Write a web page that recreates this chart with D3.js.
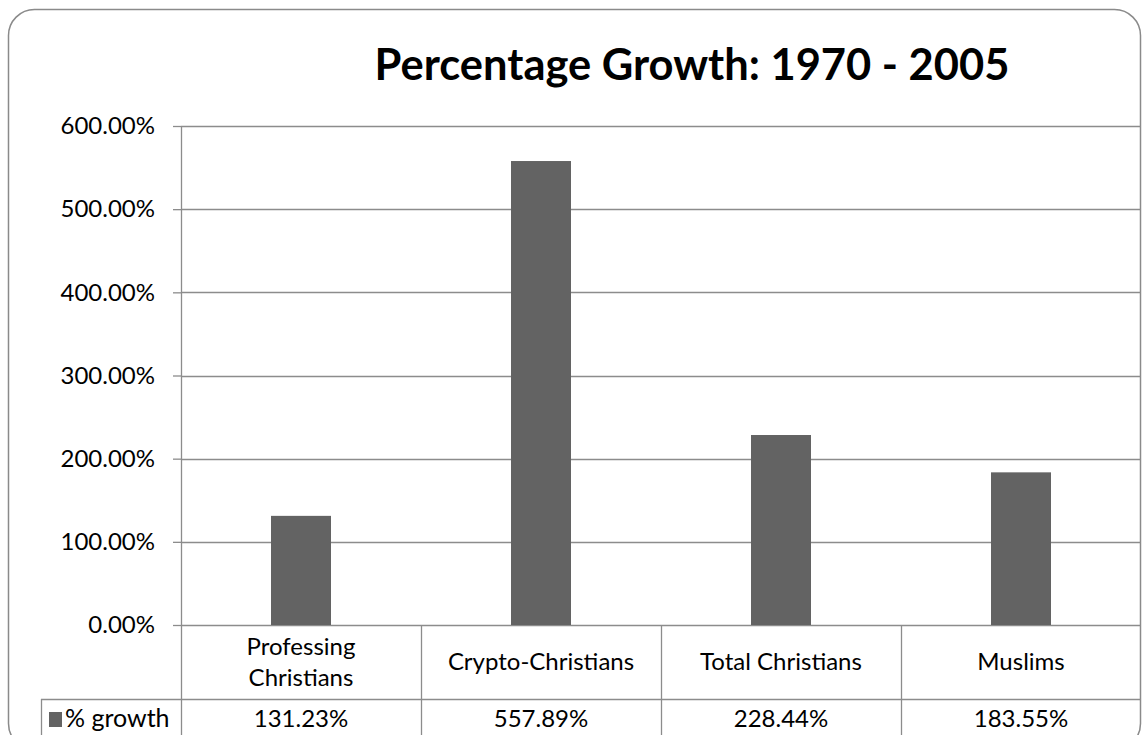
<!DOCTYPE html>
<html><head><meta charset="utf-8">
<script src="https://cdn.jsdelivr.net/npm/d3@7/dist/d3.min.js"></script>
<style>html,body{margin:0;padding:0;background:#fff;overflow:hidden}</style>
</head><body>
<svg id="c" width="1143" height="735"></svg>
<script>
const categories = ["Professing Christians", "Crypto-Christians", "Total Christians", "Muslims"];
const categoryLines = [["Professing", "Christians"], ["Crypto-Christians"], ["Total Christians"], ["Muslims"]];
const growth = [131.23, 557.89, 228.44, 183.55];
const growthLabels = ["131.23%", "557.89%", "228.44%", "183.55%"];
const yTicks = [0, 100, 200, 300, 400, 500, 600];
const seriesName = "% growth";
const title = "Percentage Growth: 1970 - 2005";

(function () {
const FONT = "Lato, 'Open Sans', sans-serif";
const FS = 24;
const grid = "#8c8c8c";
const barColor = "#636363";

const svg = d3.select("#c");
const pLeft = 181, pRight = 1141, pTop = 126, pBottom = 625;
const rowSplit = 699, tableBottom = 740, tableLeft = 41;

const x = d3.scaleBand().domain(categories).range([pLeft, pRight]).padding(0);
const y = d3.scaleLinear().domain([0, 600]).range([pBottom, pTop]);

// outer border
svg.append("rect").attr("x", 8.5).attr("y", 9.5).attr("width", 1132).attr("height", 740)
  .attr("rx", 26).attr("fill", "#fff").attr("stroke", "#8a8a8a").attr("stroke-width", 1.5);

// gridlines + y axis
const yAxis = d3.axisLeft(y).tickValues(yTicks).tickSize(8).tickPadding(18)
  .tickFormat(d => d.toFixed(2) + "%");
const gy = svg.append("g").attr("transform", `translate(${pLeft},0)`).call(yAxis);
gy.select(".domain").remove();
gy.selectAll(".tick line").attr("stroke", grid).attr("stroke-width", 1.3);
gy.selectAll(".tick text").attr("font-family", FONT).attr("font-size", FS).attr("fill", "#000");

svg.append("g").selectAll("line").data(yTicks).join("line")
  .attr("x1", pLeft).attr("x2", pRight)
  .attr("y1", d => Math.round(y(d)) + 0.5).attr("y2", d => Math.round(y(d)) + 0.5)
  .attr("stroke", grid).attr("stroke-width", 1.3);

// bars
const bw = x.bandwidth() * 0.25;
svg.append("g").selectAll("rect").data(growth).join("rect")
  .attr("x", (d, i) => x(categories[i]) + x.bandwidth() / 2 - bw / 2)
  .attr("width", bw)
  .attr("y", d => y(d))
  .attr("height", d => y(0) - y(d))
  .attr("fill", barColor);

// table lines
const tl = svg.append("g").attr("stroke", grid).attr("stroke-width", 1.3);
tl.append("line").attr("x1", pLeft + 0.5).attr("x2", pLeft + 0.5).attr("y1", pTop).attr("y2", tableBottom);
categories.slice(1).forEach(c => {
  tl.append("line").attr("x1", x(c) + 0.5).attr("x2", x(c) + 0.5).attr("y1", pBottom).attr("y2", tableBottom);
});
tl.append("line").attr("x1", tableLeft).attr("x2", pRight).attr("y1", rowSplit + 0.5).attr("y2", rowSplit + 0.5);
tl.append("line").attr("x1", tableLeft + 0.5).attr("x2", tableLeft + 0.5).attr("y1", rowSplit).attr("y2", tableBottom);

// category labels
const catG = svg.append("g").attr("font-family", FONT).attr("font-size", FS).attr("fill", "#000").attr("text-anchor", "middle");
categoryLines.forEach((lines, i) => {
  const cx = x(categories[i]) + x.bandwidth() / 2;
  const mid = (pBottom + rowSplit) / 2;
  const lh = 31;
  lines.forEach((t, j) => {
    catG.append("text").attr("x", cx)
      .attr("y", mid + (j - (lines.length - 1) / 2) * lh)
      .attr("dy", "0.35em").text(t);
  });
});

// values row
const valG = svg.append("g").attr("font-family", FONT).attr("font-size", FS).attr("fill", "#000").attr("text-anchor", "middle");
growthLabels.forEach((t, i) => {
  valG.append("text").attr("x", x(categories[i]) + x.bandwidth() / 2).attr("y", 727).text(t);
});

// legend key
svg.append("rect").attr("x", 49).attr("y", 712).attr("width", 13).attr("height", 15).attr("fill", barColor);
svg.append("text").attr("x", 65).attr("y", 727).attr("font-family", FONT).attr("font-size", 25).text(seriesName);

// title
const tt = svg.append("text").attr("x", 692).attr("y", 80).attr("text-anchor", "middle")
  .attr("font-family", FONT).attr("font-weight", "bold").attr("font-size", 38).text(title);
const w = tt.node().getComputedTextLength();
tt.attr("font-size", 38 * 635 / w);
})();
</script>
</body></html>
